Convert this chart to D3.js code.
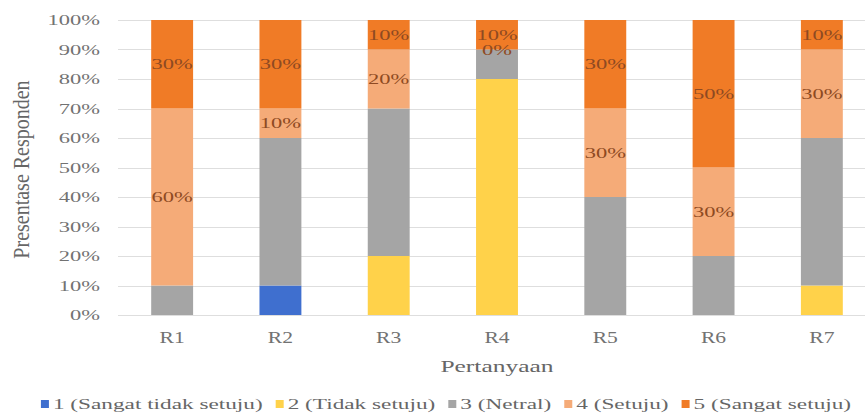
<!DOCTYPE html>
<html>
<head>
<meta charset="utf-8">
<script src="https://cdn.jsdelivr.net/npm/d3@7"></script>
<style>
  html, body { margin: 0; padding: 0; background: #ffffff; }
  svg { display: block; }
  text { font-family: "Liberation Serif", "Times New Roman", serif; }
</style>
</head>
<body>
<svg id="chart" width="865" height="414"></svg>
<script>
// Questions on the x axis
const categories = ["R1", "R2", "R3", "R4", "R5", "R6", "R7"];

// Answer options (stack order, bottom to top)
const seriesNames = [
  "1 (Sangat tidak setuju)",
  "2 (Tidak setuju)",
  "3 (Netral)",
  "4 (Setuju)",
  "5 (Sangat setuju)"
];

// Share of respondents per answer, in percent, one value per question
const sangatTidakSetuju = [0, 10, 0, 0, 0, 0, 0];
const tidakSetuju       = [0, 0, 20, 80, 0, 0, 10];
const netral            = [10, 50, 50, 10, 40, 20, 50];
const setuju            = [60, 10, 20, 0, 30, 30, 30];
const sangatSetuju      = [30, 30, 10, 10, 30, 50, 10];

const yTicks = [0, 10, 20, 30, 40, 50, 60, 70, 80, 90, 100];

const seriesValues = [sangatTidakSetuju, tidakSetuju, netral, setuju, sangatSetuju];
const seriesColors = ["#3f6fcf", "#ffd24a", "#a5a5a5", "#f5ab78", "#f07b26"];
// only the two agreeing answers carry value labels
const labelledSeries = [3, 4];

// Text in this chart is drawn horizontally widened
const SX = 1.5;

const svg = d3.select("#chart");

const plot = { left: 118, right: 876, top: 20, bottom: 315 };

const x = d3.scaleBand()
  .domain(categories)
  .range([plot.left, plot.right])
  .paddingInner(0.613)
  .paddingOuter(0.3065);

const y = d3.scaleLinear()
  .domain([0, 100])
  .range([plot.bottom, plot.top]);

// table for the stack generator
const table = categories.map((c, i) => {
  const row = { cat: c };
  seriesNames.forEach((s, k) => { row[s] = seriesValues[k][i]; });
  return row;
});
const stacked = d3.stack().keys(seriesNames)(table);

// gridlines
svg.append("g")
  .selectAll("line")
  .data(yTicks)
  .join("line")
  .attr("x1", plot.left)
  .attr("x2", plot.right)
  .attr("y1", d => Math.round(y(d)) + 0.5)
  .attr("y2", d => Math.round(y(d)) + 0.5)
  .attr("stroke", "#dedede")
  .attr("stroke-width", 1);

// y tick labels
svg.append("g")
  .selectAll("text")
  .data(yTicks)
  .join("text")
  .attr("transform", d => `translate(100,${y(d) + 5}) scale(${SX},1)`)
  .attr("text-anchor", "end")
  .attr("font-size", 15)
  .attr("fill", "#727272")
  .text(d => d + "%");

// bars
const layers = svg.append("g")
  .selectAll("g")
  .data(stacked)
  .join("g")
  .attr("fill", (d, i) => seriesColors[i]);

layers.selectAll("rect")
  .data(d => d)
  .join("rect")
  .attr("x", d => x(d.data.cat))
  .attr("width", x.bandwidth())
  .attr("y", d => y(d[1]))
  .attr("height", d => y(d[0]) - y(d[1]));

// value labels
svg.append("g")
  .selectAll("g")
  .data(stacked.filter((d, i) => labelledSeries.includes(i)))
  .join("g")
  .selectAll("text")
  .data(d => d)
  .join("text")
  .attr("transform", d => {
    const cx = x(d.data.cat) + x.bandwidth() / 2;
    const cy = y((d[0] + d[1]) / 2) + 5;
    return `translate(${cx},${cy}) scale(${SX},1)`;
  })
  .attr("text-anchor", "middle")
  .attr("font-size", 15)
  .attr("fill", "#8e4a22")
  .text(d => (d[1] - d[0]) + "%");

// x category labels
svg.append("g")
  .selectAll("text")
  .data(categories)
  .join("text")
  .attr("transform", d => `translate(${x(d) + x.bandwidth() / 2},343) scale(${SX * 0.9},1)`)
  .attr("text-anchor", "middle")
  .attr("font-size", 16)
  .attr("fill", "#727272")
  .text(d => d);

// x axis title
svg.append("text")
  .attr("transform", `translate(${(plot.left + plot.right) / 2},372) scale(${SX},1)`)
  .attr("text-anchor", "middle")
  .attr("font-size", 17)
  .attr("fill", "#666666")
  .text("Pertanyaan");

// y axis title
svg.append("text")
  .attr("transform", `translate(29,${(plot.top + plot.bottom) / 2 + 2}) scale(1.15,1) rotate(-90)`)
  .attr("text-anchor", "middle")
  .attr("font-size", 20)
  .attr("fill", "#666666")
  .text("Presentase Responden");

// legend
const legend = svg.append("g");
const items = legend.selectAll("g")
  .data(seriesNames)
  .join("g");

items.append("rect")
  .attr("width", 8)
  .attr("height", 8)
  .attr("y", -9)
  .attr("fill", (d, i) => seriesColors[i]);

items.append("text")
  .attr("transform", `translate(12,0) scale(${SX},1)`)
  .attr("font-size", 15.5)
  .attr("fill", "#666666")
  .text(d => d);

let offset = 0;
const itemGap = 13;
items.each(function () {
  const g = d3.select(this);
  const w = 12 + g.select("text").node().getComputedTextLength() * SX;
  g.attr("data-x", offset);
  offset += w + itemGap;
});
const totalWidth = offset - itemGap;
const legendLeft = 446 - totalWidth / 2;
items.attr("transform", function () {
  return `translate(${legendLeft + (+this.getAttribute("data-x"))},409)`;
});
</script>
</body>
</html>
